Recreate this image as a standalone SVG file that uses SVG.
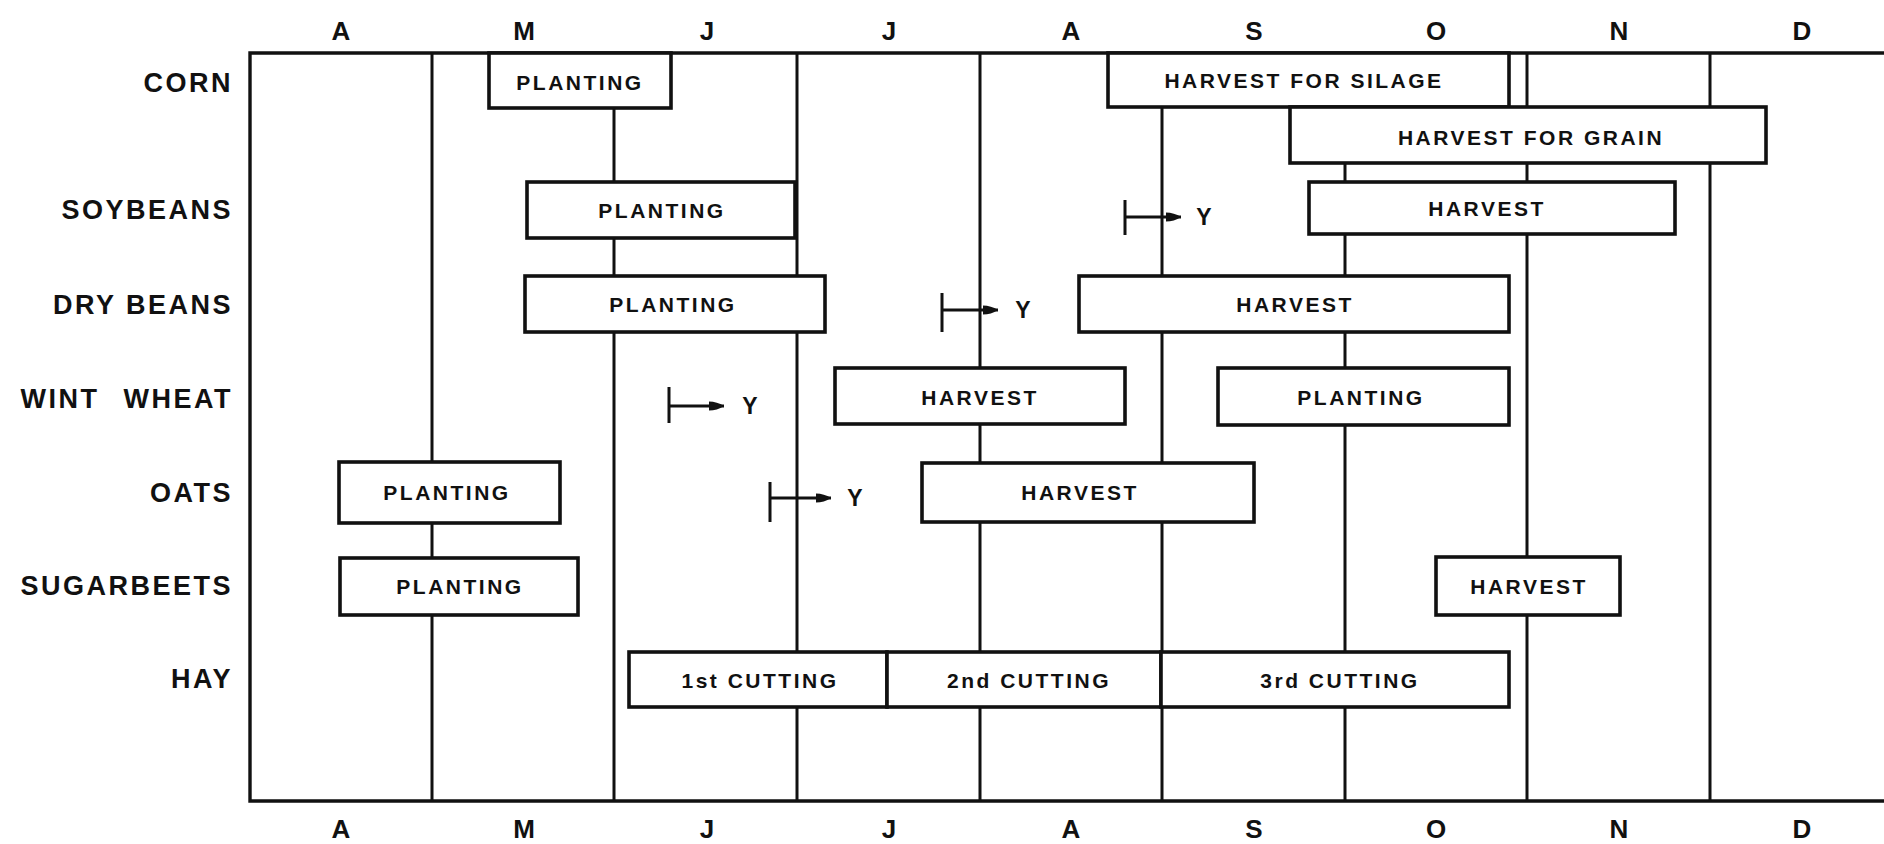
<svg xmlns="http://www.w3.org/2000/svg" width="1884" height="844" viewBox="0 0 1884 844">
<defs>
<style>
.t{font-family:"Liberation Sans",Arial,Helvetica,sans-serif;font-weight:bold;fill:#111}
.row{font-size:27px;letter-spacing:2.5px;text-anchor:end}
.mon{font-size:26px;text-anchor:middle}
.bt{font-size:21px;letter-spacing:2.5px;text-anchor:middle}
.yl{font-size:23px;text-anchor:middle}
.grid{stroke:#111;stroke-width:3;fill:none}
.frame{stroke:#111;stroke-width:3.4;fill:none}
.box{fill:#fff;stroke:#111;stroke-width:3.6}
.tick{stroke:#111;stroke-width:3;fill:none}
</style>
<marker id="ah" markerUnits="userSpaceOnUse" markerWidth="16" markerHeight="12" refX="15" refY="6" orient="auto">
<path d="M0,1.5 Q8,1.5 15,6 Q8,10.5 0,10.5 Z" fill="#111"/>
</marker>
</defs>
<rect width="1884" height="844" fill="#fff"/>

<g id="month-labels-top" class="t mon">
<text x="341" y="40">A</text><text x="524" y="40">M</text><text x="707" y="40">J</text>
<text x="889" y="40">J</text><text x="1071" y="40">A</text><text x="1254" y="40">S</text>
<text x="1436" y="40">O</text><text x="1619" y="40">N</text><text x="1802" y="40">D</text>
</g>
<g id="month-labels-bottom" class="t mon">
<text x="341" y="838">A</text><text x="524" y="838">M</text><text x="707" y="838">J</text>
<text x="889" y="838">J</text><text x="1071" y="838">A</text><text x="1254" y="838">S</text>
<text x="1436" y="838">O</text><text x="1619" y="838">N</text><text x="1802" y="838">D</text>
</g>
<g id="row-labels" class="t row">
<text x="233" y="92">CORN</text>
<text x="233" y="219">SOYBEANS</text>
<text x="233" y="314">DRY BEANS</text>
<text x="233" y="408" word-spacing="14">WINT WHEAT</text>
<text x="233" y="502">OATS</text>
<text x="233" y="595">SUGARBEETS</text>
<text x="233" y="688">HAY</text>
</g>

<g id="grid">
<path class="frame" d="M1884,53 H250 V801 H1884"/>
<path class="grid" d="M432,53 V801 M614,53 V801 M797,53 V801 M980,53 V801 M1162,53 V801 M1345,53 V801 M1527,53 V801 M1710,53 V801"/>
</g>

<g id="connectors">
<path class="tick" d="M1125,200 V235 M1125,217 H1181" marker-end="url(#ah)"/>
<path class="tick" d="M942,293 V332 M942,310 H998" marker-end="url(#ah)"/>
<path class="tick" d="M669,387 V423 M669,406 H724" marker-end="url(#ah)"/>
<path class="tick" d="M770,482 V522 M770,498 H831" marker-end="url(#ah)"/>
<g class="t yl">
<text x="1204" y="225">Y</text>
<text x="1023" y="318">Y</text>
<text x="750" y="414">Y</text>
<text x="855" y="506">Y</text>
</g>
</g>

<g id="corn-planting"><rect class="box" x="489" y="53" width="182" height="55"/><text class="t bt" x="580" y="90">PLANTING</text></g>
<g id="corn-silage"><rect class="box" x="1108" y="53" width="401" height="54"/><text class="t bt" x="1304" y="88">HARVEST FOR SILAGE</text></g>
<g id="corn-grain"><rect class="box" x="1290" y="107" width="476" height="56"/><text class="t bt" x="1531" y="145">HARVEST FOR GRAIN</text></g>
<g id="soy-planting"><rect class="box" x="527" y="182" width="268" height="56"/><text class="t bt" x="662" y="218">PLANTING</text></g>
<g id="soy-harvest"><rect class="box" x="1309" y="182" width="366" height="52"/><text class="t bt" x="1487" y="216">HARVEST</text></g>
<g id="drybeans-planting"><rect class="box" x="525" y="276" width="300" height="56"/><text class="t bt" x="673" y="312">PLANTING</text></g>
<g id="drybeans-harvest"><rect class="box" x="1079" y="276" width="430" height="56"/><text class="t bt" x="1295" y="312">HARVEST</text></g>
<g id="wheat-harvest"><rect class="box" x="835" y="368" width="290" height="56"/><text class="t bt" x="980" y="405">HARVEST</text></g>
<g id="wheat-planting"><rect class="box" x="1218" y="368" width="291" height="57"/><text class="t bt" x="1361" y="405">PLANTING</text></g>
<g id="oats-planting"><rect class="box" x="339" y="462" width="221" height="61"/><text class="t bt" x="447" y="500">PLANTING</text></g>
<g id="oats-harvest"><rect class="box" x="922" y="463" width="332" height="59"/><text class="t bt" x="1080" y="500">HARVEST</text></g>
<g id="sugarbeets-planting"><rect class="box" x="340" y="558" width="238" height="57"/><text class="t bt" x="460" y="594">PLANTING</text></g>
<g id="sugarbeets-harvest"><rect class="box" x="1436" y="557" width="184" height="58"/><text class="t bt" x="1529" y="594">HARVEST</text></g>
<g id="hay-1st"><rect class="box" x="629" y="652" width="258" height="55"/><text class="t bt" x="760" y="688">1st CUTTING</text></g>
<g id="hay-2nd"><rect class="box" x="887" y="652" width="274" height="55"/><text class="t bt" x="1029" y="688">2nd CUTTING</text></g>
<g id="hay-3rd"><rect class="box" x="1161" y="652" width="348" height="55"/><text class="t bt" x="1340" y="688">3rd CUTTING</text></g>
</svg>
